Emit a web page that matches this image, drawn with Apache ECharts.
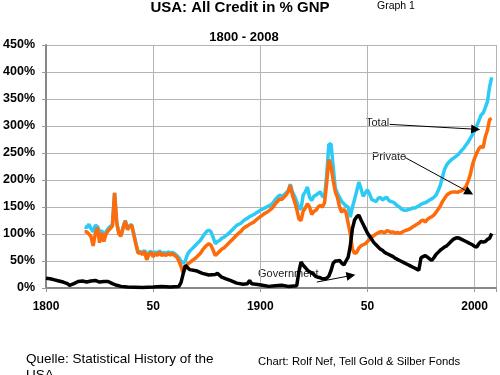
<!DOCTYPE html>
<html>
<head>
<meta charset="utf-8">
<script src="https://cdn.jsdelivr.net/npm/echarts@6/dist/echarts.min.js"></script>
<style>
  html, body { margin: 0; padding: 0; background: #fff; }
  #chart { width: 500px; height: 375px; }
</style>
</head>
<body>
<div id="chart"></div>
<script>
// Total credit in % of GNP, yearly from 1818
const totalFrom = 1818;
const totalPct = [
  113, 112,
  118, 110, 104, 116, 114, 104, 106, 98, 104, 110,
  114, 117, 176, 122, 102, 98, 113, 125, 110, 116,
  117, 100, 82, 66, 68, 64, 70, 56, 66, 68,
  63, 67, 64, 69, 64, 66, 64, 67, 65, 66,
  64, 60, 56, 50, 46, 50, 62, 68, 72, 76,
  80, 84, 88, 94, 100, 105, 107, 104, 94, 82,
  86, 88, 92, 94, 97, 100, 104, 108, 112, 116,
  118, 120, 124, 127, 129, 132, 134, 136, 139, 141,
  144, 146, 148, 150, 152, 154, 158, 164, 168, 172,
  170, 172, 176, 180, 192, 178, 170, 160, 148, 146,
  172, 178, 187, 168, 162, 170, 172, 175, 178, 170,
  168, 210, 266, 267, 225, 185, 175, 168, 160, 156,
  152, 150, 131, 150, 164, 180, 196, 184, 170, 176,
  182, 174, 164, 162, 160, 166, 168, 163, 166, 168,
  162, 160, 159, 156, 152, 150, 146, 144, 144, 145,
  146, 148, 148, 150, 152, 155, 157, 158, 160, 163,
  165, 168, 172, 180, 190, 205, 220, 228, 233, 237,
  240, 243, 246, 250, 255, 259, 265, 270, 277, 284,
  290, 300, 310, 320, 324, 334, 345, 372, 390
];

// Private credit in % of GNP, yearly from 1818
const privateFrom = 1818;
const privatePct = [
  104, 104,
  100, 95, 78, 100, 112, 84, 102, 86, 100, 106,
  110, 115, 176, 120, 100, 96, 112, 124, 108, 114,
  116, 98, 80, 64, 66, 62, 68, 52, 62, 66,
  58, 64, 60, 67, 60, 63, 60, 64, 61, 64,
  60, 58, 50, 40, 28, 36, 44, 47, 50, 53,
  56, 60, 64, 70, 75, 79, 82, 79, 70, 60,
  64, 68, 72, 74, 78, 82, 86, 90, 94, 98,
  102, 105, 110, 113, 115, 118, 120, 122, 126, 129,
  132, 135, 138, 140, 143, 146, 150, 156, 160, 165,
  164, 168, 172, 178, 190, 172, 160, 146, 128, 125,
  142, 148, 156, 150, 136, 142, 144, 150, 153, 150,
  158, 195, 238, 225, 200, 178, 168, 150, 140, 146,
  140, 120, 100, 72, 64, 66, 74, 78, 80, 82,
  86, 90, 94, 97, 100, 102, 104, 104, 102, 106,
  105, 103, 104, 101, 103, 101, 103, 105, 107, 108,
  110, 113, 115, 118, 120, 124, 126, 122, 127, 130,
  132, 135, 140, 146, 152, 160, 166, 172, 175, 177,
  178, 178, 177, 179, 180, 184, 188, 198, 210, 228,
  240, 250, 258, 262, 260, 280, 292, 312, 314
];

// Government credit in % of GNP
const govYears = [
  1800, 1802, 1804, 1806, 1808, 1810, 1811, 1813, 1815, 1817,
  1819, 1821, 1823, 1825, 1827, 1829, 1831, 1833, 1835, 1838,
  1845, 1850, 1854, 1858, 1862, 1863, 1865, 1867, 1870, 1873,
  1876, 1879, 1880, 1882, 1884, 1886, 1889, 1892, 1894, 1895,
  1896, 1898, 1901, 1904, 1907, 1910, 1913, 1917, 1918, 1919,
  1920, 1921, 1922, 1923, 1924, 1925, 1926, 1927, 1928, 1929,
  1930, 1931, 1932, 1933, 1934, 1935, 1936, 1937, 1938, 1939,
  1940, 1941, 1942, 1943, 1944, 1945, 1946, 1947, 1948, 1949,
  1950, 1951, 1952, 1953, 1954, 1955, 1956, 1957, 1958, 1959,
  1960, 1961, 1962, 1963, 1964, 1965, 1966, 1967, 1968, 1969,
  1970, 1971, 1972, 1973, 1974, 1975, 1976, 1977, 1978, 1979,
  1980, 1981, 1982, 1983, 1984, 1985, 1986, 1987, 1988, 1989,
  1990, 1991, 1992, 1993, 1994, 1995, 1996, 1997, 1998, 1999,
  2000, 2001, 2002, 2003, 2004, 2005, 2006, 2007, 2008
];
const govPct = [
  18, 17, 15, 13, 11, 8, 5, 8, 12, 13,
  11, 13, 14, 11, 12, 12, 8, 5, 3, 2,
  1, 2, 3, 2, 3, 10, 42, 34, 32, 27,
  24, 25, 27, 20, 17, 14, 9, 7, 8, 14,
  8, 7, 5, 3, 4, 5, 3, 4, 30, 48,
  42, 38, 33, 30, 28, 25, 21, 20, 19, 17,
  17, 18, 22, 32, 46, 50, 50, 51, 46, 43,
  50, 57, 78, 110, 126, 132, 135, 126, 118, 110,
  102, 96, 90, 84, 80, 76, 72, 70, 66, 64,
  62, 60, 58, 55, 53, 51, 49, 47, 45, 43,
  41, 39, 37, 35, 33, 56, 58, 60, 57, 54,
  51, 56, 62, 66, 70, 73, 76, 78, 82, 86,
  90, 92, 93, 92, 90, 88, 86, 84, 82, 80,
  77, 76, 82, 86, 85, 86, 90, 92, 101
];

const yearLabels = { 1800: '1800', 1850: '50', 1900: '1900', 1950: '50', 2000: '2000' };

const FONT = '"Liberation Sans", Arial, sans-serif';

var chart = echarts.init(document.getElementById('chart'));

chart.setOption({
  backgroundColor: '#ffffff',
  animation: false,
  textStyle: { fontFamily: FONT },
  grid: {
    left: 46,
    right: 4,
    top: 45,
    bottom: 87,
    containLabel: false,
    outerBoundsMode: 'none'
  },
  xAxis: {
    type: 'value',
    min: 1800,
    max: 2010,
    interval: 50,
    axisLine: { show: true, onZero: false, lineStyle: { color: '#888', width: 2 } },
    axisTick: { show: true, length: 4, lineStyle: { color: '#999' } },
    splitLine: { show: true, lineStyle: { color: '#b4b4b4', width: 1 } },
    axisLabel: {
      margin: 13,
      fontSize: 12,
      fontWeight: 'bold',
      color: '#000',
      fontFamily: FONT,
      formatter: function (v) { return yearLabels[v] || ''; }
    }
  },
  yAxis: {
    type: 'value',
    min: 0,
    max: 450,
    interval: 50,
    axisLine: { show: true, lineStyle: { color: '#888', width: 2 } },
    axisTick: { show: true, length: 4, lineStyle: { color: '#999' } },
    splitLine: { show: true, lineStyle: { color: '#b4b4b4', width: 1 } },
    axisLabel: {
      margin: 11,
      fontSize: 12.5,
      fontWeight: 'bold',
      color: '#000',
      fontFamily: FONT,
      formatter: '{value}%'
    }
  },
  series: [
    {
      name: 'Total',
      type: 'line',
      symbol: 'none',
      lineStyle: { color: '#2ccaf5', width: 3.5 },
      data: totalPct.map((v, i) => [totalFrom + i, v]),
      z: 2
    },
    {
      name: 'Private',
      type: 'line',
      symbol: 'none',
      lineStyle: { color: '#ff6a0a', width: 3.5 },
      data: privatePct.map((v, i) => [privateFrom + i, v]),
      z: 3
    },
    {
      name: 'Government',
      type: 'line',
      symbol: 'none',
      lineStyle: { color: '#000', width: 3.5 },
      data: govYears.map((y, i) => [y, govPct[i]]),
      z: 4,
      markLine: {
        silent: true,
        symbol: ['none', 'triangle'],
        symbolSize: 9,
        label: { show: false },
        lineStyle: { color: '#000', width: 1, type: 'solid' },
        data: [
          [{ coord: [1960.4, 303] }, { coord: [2000.5, 294] }],
          [{ coord: [1967.4, 242] }, { coord: [1997.5, 177] }],
          [{ coord: [1926.4, 11] }, { coord: [1942.3, 23] }]
        ]
      }
    }
  ],
  graphic: [
    { type: 'text', x: 240, y: 8, style: { text: 'USA: All Credit in % GNP', font: 'bold 15px ' + FONT, fill: '#000', align: 'center', verticalAlign: 'middle' } },
    { type: 'text', x: 377, y: 6, style: { text: 'Graph 1', font: '10.5px ' + FONT, fill: '#000', align: 'left', verticalAlign: 'middle' } },
    { type: 'text', x: 244, y: 37, style: { text: '1800 - 2008', font: 'bold 13px ' + FONT, fill: '#000', align: 'center', verticalAlign: 'middle' } },
    { type: 'text', x: 366, y: 123, style: { text: 'Total', font: '11px ' + FONT, fill: '#222', align: 'left', verticalAlign: 'middle' } },
    { type: 'text', x: 372, y: 157, style: { text: 'Private', font: '11px ' + FONT, fill: '#222', align: 'left', verticalAlign: 'middle' } },
    { type: 'text', x: 258, y: 274, style: { text: 'Government', font: '11px ' + FONT, fill: '#222', align: 'left', verticalAlign: 'middle' } },
    { type: 'text', x: 26, y: 351, style: { text: 'Quelle: Statistical History of the\nUSA', font: '13.5px ' + FONT, lineHeight: 16, fill: '#000', align: 'left', verticalAlign: 'top' } },
    { type: 'text', x: 258, y: 362, style: { text: 'Chart: Rolf Nef, Tell Gold & Silber Fonds', font: '11.3px ' + FONT, fill: '#000', align: 'left', verticalAlign: 'middle' } }
  ]
});
</script>
</body>
</html>
